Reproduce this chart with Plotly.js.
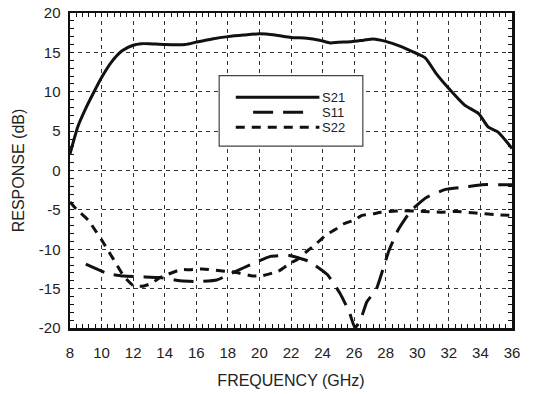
<!DOCTYPE html>
<html>
<head>
<meta charset="utf-8">
<script src="https://cdn.plot.ly/plotly-3.0.1.min.js"></script>
<style>
html,body{margin:0;padding:0;background:#fff;}
#chart{width:544px;height:394px;}
</style>
</head>
<body>
<div id="chart"></div>
<script>
// Frequency (GHz) and responses (dB)
var s21X = [8, 8.5, 9, 9.5, 10, 10.6, 11.3, 12, 12.5, 13, 14, 15.3, 16, 17, 18, 19, 20, 21, 22, 23, 23.8, 24.5, 25, 25.8, 26.6, 27.2, 28, 28.9, 29.8, 30.5, 31.2, 32, 33, 33.9, 34.5, 35.1, 36];
var s21Y = [2.1, 5.6, 7.9, 9.9, 11.8, 13.7, 15.2, 15.9, 16.1, 16.1, 16.0, 16.0, 16.3, 16.7, 17.0, 17.2, 17.35, 17.2, 16.9, 16.8, 16.55, 16.2, 16.3, 16.35, 16.55, 16.7, 16.4, 15.8, 15.0, 14.3, 12.3, 10.4, 8.3, 7.2, 5.5, 4.9, 2.8];

var s11X = [9.0, 10.4, 11.4, 12.6, 13.7, 15.0, 16.2, 17.3, 18.4, 19.6, 20.7, 21.9, 23.1, 24.3, 25.1, 25.7, 26.05, 26.4, 26.8, 27.4, 27.8, 28.2, 28.8, 29.6, 30.6, 31.8, 33.0, 34.1, 35.2, 36];
var s11Y = [-11.9, -13.1, -13.4, -13.5, -13.6, -14.0, -14.1, -13.9, -12.9, -11.8, -10.9, -10.8, -11.5, -13.2, -15.6, -18.0, -20.0, -19.0, -16.7, -15.1, -12.7, -10.2, -7.5, -5.1, -3.4, -2.4, -2.1, -1.8, -1.8, -1.8];

var s22X = [8, 8.4, 9.2, 9.5, 10, 10.3, 10.7, 11, 11.4, 12, 12.6, 13.2, 13.7, 15, 15.6, 16.4, 17.4, 17.9, 18.4, 19.6, 20.1, 20.7, 21.2, 22.0, 22.4, 23.1, 23.5, 24.2, 24.8, 25.3, 26, 26.5, 27.2, 27.7, 28.3, 29, 30.4, 31.5, 32.5, 33.7, 34.9, 36];
var s22Y = [-4.0, -4.9, -6.4, -7.3, -8.8, -9.8, -11.1, -12.1, -13.4, -14.6, -14.7, -14.3, -13.6, -12.6, -12.6, -12.5, -12.7, -12.8, -12.9, -13.4, -13.4, -13.1, -12.8, -11.7, -11.3, -10.1, -9.5, -8.2, -7.5, -6.8, -6.3, -5.7, -5.5, -5.3, -5.2, -5.1, -5.2, -5.3, -5.2, -5.4, -5.6, -5.7];

var seriesNames = ['S21', 'S11', 'S22'];
var xTicks = [8, 10, 12, 14, 16, 18, 20, 22, 24, 26, 28, 30, 32, 34, 36];
var yTicks = [-20, -15, -10, -5, 0, 5, 10, 15, 20];

var lineColor = '#111';
var dashes = ['solid', '20px,10px', '9px,7px'];

var traces = [
  {x: s21X, y: s21Y, name: seriesNames[0], mode: 'lines', line: {color: lineColor, width: 3, dash: dashes[0], shape: 'spline', smoothing: 0.6}},
  {x: s11X, y: s11Y, name: seriesNames[1], mode: 'lines', line: {color: lineColor, width: 3, dash: dashes[1], shape: 'spline', smoothing: 0.4}},
  {x: s22X, y: s22Y, name: seriesNames[2], mode: 'lines', line: {color: lineColor, width: 3, dash: dashes[2], shape: 'spline', smoothing: 0.4}}
];

// Hand-drawn legend (box, line samples, labels) in data coordinates
var legBox = {x0: 17.45, x1: 26.55, y0: 3.1, y1: 12.05};
var legLineX = [[18.5, 23.8], [19.6, 23.2], [18.5, 23.8]];
var legY = [9.3, 7.4, 5.5];
var fontFam = 'Liberation Sans, Arial, sans-serif';
var shapes = [{type: 'rect', xref: 'x', yref: 'y', x0: legBox.x0, x1: legBox.x1, y0: legBox.y0, y1: legBox.y1,
  line: {color: '#444', width: 1.2}, fillcolor: '#fff', layer: 'above'}];
var annotations = [];
for (var i = 0; i < 3; i++) {
  shapes.push({type: 'line', xref: 'x', yref: 'y', x0: legLineX[i][0], x1: legLineX[i][1], y0: legY[i], y1: legY[i],
    line: {color: lineColor, width: 3, dash: dashes[i]}, layer: 'above'});
  annotations.push({xref: 'x', yref: 'y', x: 24.05, y: legY[i], text: seriesNames[i], showarrow: false,
    xanchor: 'left', yanchor: 'middle', xshift: -2, borderpad: 0,
    font: {family: fontFam, size: 13, color: '#222'}});
}

var axisCommon = {
  showline: true, linecolor: '#111', linewidth: 2.5, mirror: 'ticks',
  ticks: 'inside', ticklen: 0, tickcolor: '#111',
  showgrid: true, gridcolor: '#333', gridwidth: 1, griddash: '4px,4px',
  zeroline: false, tickfont: {family: fontFam, size: 15, color: '#222'}
};

var layout = {
  width: 544, height: 394,
  margin: {l: 70, r: 32, t: 13, b: 66},
  paper_bgcolor: '#fff', plot_bgcolor: '#fff',
  showlegend: false,
  font: {family: fontFam, color: '#222'},
  xaxis: Object.assign({}, axisCommon, {
    range: [8, 36], tickvals: xTicks, ticktext: xTicks.map(String), ticklabelstandoff: 9,
    minor: {dtick: 0.4, tick0: 8, ticks: 'inside', ticklen: 4, tickcolor: '#111', tickwidth: 1, showgrid: false},
    title: {text: 'FREQUENCY (GHz)', font: {family: fontFam, size: 16, color: '#222'}, standoff: 16}
  }),
  yaxis: Object.assign({}, axisCommon, {
    range: [-20, 20], tickvals: yTicks, ticktext: yTicks.map(String), ticklabelstandoff: 4,
    minor: {dtick: 1, tick0: 0, ticks: 'inside', ticklen: 4, tickcolor: '#111', tickwidth: 1, showgrid: false},
    title: {text: 'RESPONSE (dB)', font: {family: fontFam, size: 16, color: '#222'}, standoff: 10}
  }),
  shapes: shapes,
  annotations: annotations
};

Plotly.newPlot('chart', traces, layout, {staticPlot: true, displayModeBar: false});
</script>
</body>
</html>
